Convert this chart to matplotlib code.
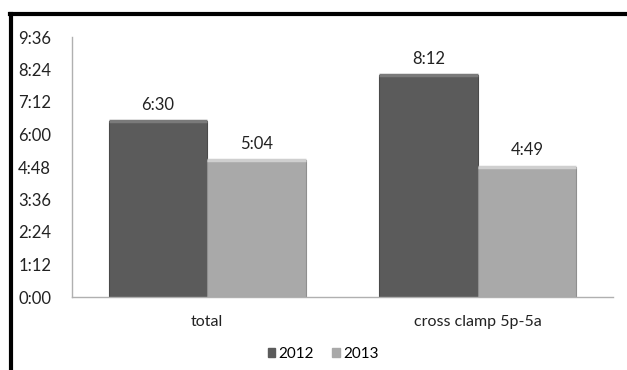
import matplotlib
matplotlib.use("Agg")
import matplotlib.pyplot as plt
from matplotlib.ticker import FuncFormatter, MultipleLocator
from matplotlib.lines import Line2D
import numpy as np

categories = ["total", "cross clamp 5p-5a"]
series_names = ["2012", "2013"]
values_2012 = [390, 492]   # minutes: 6:30, 8:12
values_2013 = [304, 289]   # minutes: 5:04, 4:49
labels_2012 = ["6:30", "8:12"]
labels_2013 = ["5:04", "4:49"]

plt.rcParams['font.family'] = ['Lato', 'DejaVu Sans']

fig = plt.figure(figsize=(6.27, 3.70), dpi=100)
ax = fig.add_axes([72/627, 1-297/370, (613-72)/627, (297-37)/370])

x = np.arange(len(categories))
w = 0.365
dark = "#5b5b5b"
light = "#a9a9a9"
b1 = ax.bar(x - w/2, values_2012, w, color=dark, edgecolor="#4a4a4a", linewidth=0.8, label=series_names[0])
b2 = ax.bar(x + w/2, values_2013, w, color=light, edgecolor="#8f8f8f", linewidth=0.8, label=series_names[1])

# bevel highlights on top
for bars, hl in ((b1, "#7a7a7a"), (b2, "#cfcfcf")):
    for r in bars:
        ax.plot([r.get_x(), r.get_x() + r.get_width()], [r.get_height(), r.get_height()],
                color=hl, lw=2.5, solid_capstyle='butt', zorder=3)

for r, t in zip(b1, labels_2012):
    ax.text(r.get_x() + r.get_width()/2, r.get_height() + 18, t, ha='center', va='bottom', fontsize=12, color="#222222")
for r, t in zip(b2, labels_2013):
    ax.text(r.get_x() + r.get_width()/2, r.get_height() + 18, t, ha='center', va='bottom', fontsize=12, color="#222222")

ax.set_xlim(-0.5, 1.5)
ax.set_ylim(0, 576)
ax.yaxis.set_major_locator(MultipleLocator(72))
ax.yaxis.set_major_formatter(FuncFormatter(lambda v, p: f"{int(v)//60}:{int(v)%60:02d}"))
ax.set_xticks(x)
ax.set_xticklabels(categories)
ax.tick_params(axis='y', length=0, labelsize=12, colors="#222222", pad=15)
ax.tick_params(axis='x', length=0, labelsize=11.5, colors="#222222", pad=13)
for s in ("top", "right"):
    ax.spines[s].set_visible(False)
for s in ("left", "bottom"):
    ax.spines[s].set_color("#b0b0b0")
    ax.spines[s].set_linewidth(1)

handles = [plt.Rectangle((0, 0), 1, 1, color=dark), plt.Rectangle((0, 0), 1, 1, color=light)]
fig.legend(handles, series_names, loc='center', bbox_to_anchor=(323/627, 1-354/370), ncol=2,
           frameon=False, fontsize=11, handlelength=0.5, handleheight=0.5, handletextpad=0.2, columnspacing=1.2)

# outer black frame (top and left)
fig.add_artist(Line2D([10/627, 1], [1-14/370, 1-14/370], color='black', lw=3, transform=fig.transFigure))
fig.add_artist(Line2D([11/627, 11/627], [1-14/370, 0], color='black', lw=3, transform=fig.transFigure))

fig.savefig("out.png", dpi=100)
